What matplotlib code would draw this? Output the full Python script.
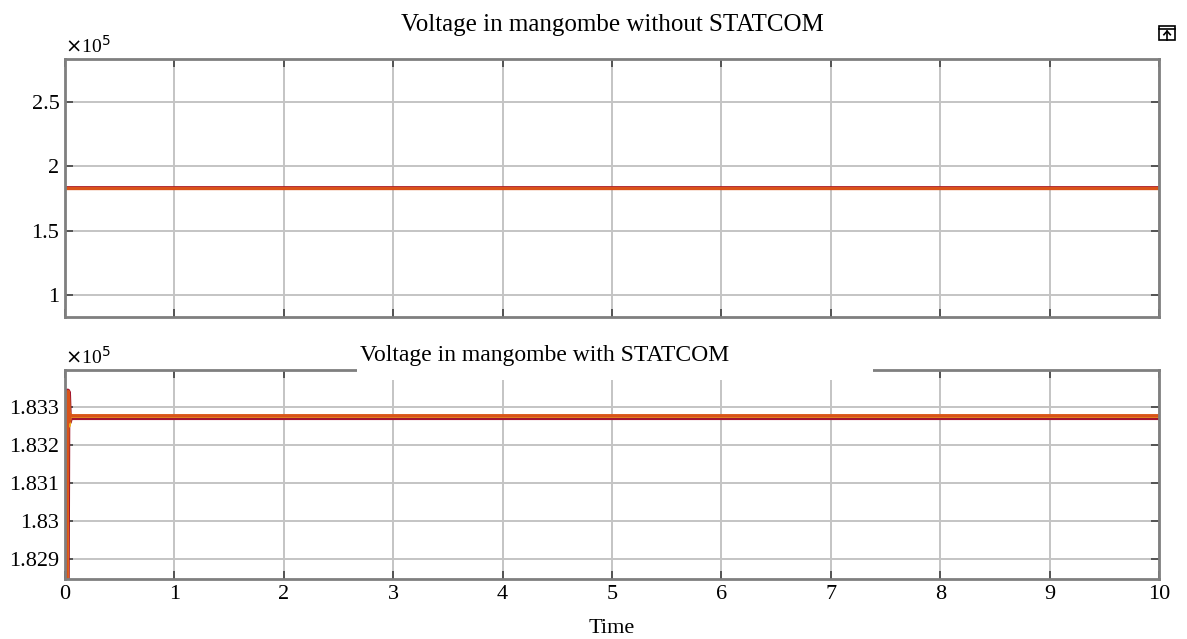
import matplotlib
matplotlib.use("Agg")
import matplotlib.pyplot as plt

plt.rcParams["font.family"] = ["Liberation Serif", "DejaVu Serif"]

# phase voltages at the Mangombe bus (V), time in s
t_flat = [0.0, 10.0]
v_red_flat = [1.836e5, 1.836e5]
v_orange_flat = [1.828e5, 1.828e5]

t_comp = [0.0, 0.018, 0.024, 0.03, 0.038, 0.046, 0.055, 0.07, 10.0]
v_red_comp = [1.8284e5, 1.8284e5, 1.8334e5, 1.8333e5, 1.8326e5, 1.8327e5, 1.83272e5, 1.83272e5, 1.83272e5]
v_yellow_comp = [1.8284e5, 1.8284e5, 1.8331e5, 1.8333e5, 1.8325e5, 1.8328e5, 1.83275e5, 1.83275e5, 1.83275e5]
v_orange_comp = [1.8284e5, 1.8284e5, 1.8333e5, 1.8334e5, 1.8326e5, 1.8328e5, 1.83276e5, 1.83276e5, 1.83276e5]

x_ticks = list(range(0, 11))
top_yticks = [1.0e5, 1.5e5, 2.0e5, 2.5e5]
top_ylabels = ["1", "1.5", "2", "2.5"]
bot_yticks = [1.829e5, 1.830e5, 1.831e5, 1.832e5, 1.833e5]
bot_ylabels = ["1.829", "1.83", "1.831", "1.832", "1.833"]

RED = "#A2142F"
ORANGE = "#D95319"
YELLOW = "#EDB120"
SPINE = "#7f7f7f"
GRID = "#c4c4c4"

W, H = 1187, 639
fig = plt.figure(figsize=(W / 100, H / 100), dpi=100)
ax1 = fig.add_axes([65 / W, 1 - 317 / H, 1094 / W, 258 / H])
ax2 = fig.add_axes([65 / W, 1 - 579 / H, 1094 / W, 209 / H])


def style(ax, yticks, ylabels, ylim):
    ax.set_xlim(0, 10)
    ax.set_ylim(*ylim)
    ax.set_xticks(x_ticks)
    ax.set_yticks(yticks)
    ax.set_yticklabels(ylabels)
    ax.grid(True, color=GRID, linewidth=1.4)
    ax.set_axisbelow(True)
    ax.tick_params(direction="in", length=6, width=1.2, color="#404040",
                   labelsize=16, pad=4, top=True, right=True)
    for s in ax.spines.values():
        s.set_color(SPINE)
        s.set_linewidth(2)


style(ax1, top_yticks, top_ylabels, (0.83e5, 2.83e5))
ax1.tick_params(labelbottom=False)
ax1.plot(t_flat, v_red_flat, color=RED, linewidth=2.0, solid_capstyle="butt")
ax1.plot(t_flat, v_orange_flat, color=ORANGE, linewidth=2.4, solid_capstyle="butt")
ax1.set_title("Voltage in mangombe without STATCOM", fontsize=18, pad=20)
ax1.text(0.0, 1.01, r"$\times$10$^5$", transform=ax1.transAxes, fontsize=14,
         ha="left", va="bottom")

style(ax2, bot_yticks, bot_ylabels, (1.82848e5, 1.83396e5))
ax2.plot(t_comp, v_red_comp, color=RED, linewidth=4, solid_capstyle="butt")
ax2.plot(t_comp, v_yellow_comp, color=YELLOW, linewidth=2.5, solid_capstyle="butt")
ax2.plot(t_comp, v_orange_comp, color=ORANGE, linewidth=2.3, solid_capstyle="butt")
ax2.text(0.0, 1.01, r"$\times$10$^5$", transform=ax2.transAxes, fontsize=14,
         ha="left", va="bottom")
ax2.set_xlabel("Time", fontsize=16, labelpad=11)

# white title strip over the top edge of the lower panel
fig.add_artist(plt.Rectangle((357 / W, 1 - 380 / H), 516 / W, 38 / H,
                             transform=fig.transFigure, facecolor="white",
                             edgecolor="none", zorder=4))
fig.text(545 / W, 1 - 355 / H, "Voltage in mangombe with STATCOM",
         fontsize=17, ha="center", va="center", zorder=5)

# small dock button in the upper right corner
bx, by, bw, bh = 0.9765, 0.938, 0.0135, 0.022
fig.add_artist(plt.Rectangle((bx, by), bw, bh, transform=fig.transFigure,
                             fill=False, edgecolor="black", linewidth=1.2))
fig.add_artist(plt.Line2D([bx, bx + bw], [by + bh * 0.72] * 2,
                          transform=fig.transFigure, color="black", linewidth=1.2))
fig.add_artist(plt.Line2D([bx + bw / 2] * 2, [by, by + bh * 0.6],
                          transform=fig.transFigure, color="black", linewidth=1.2))
fig.add_artist(plt.Line2D([bx + bw * 0.3, bx + bw / 2, bx + bw * 0.7],
                          [by + bh * 0.35, by + bh * 0.6, by + bh * 0.35],
                          transform=fig.transFigure, color="black", linewidth=1.2))

fig.savefig("out.png", dpi=100)
